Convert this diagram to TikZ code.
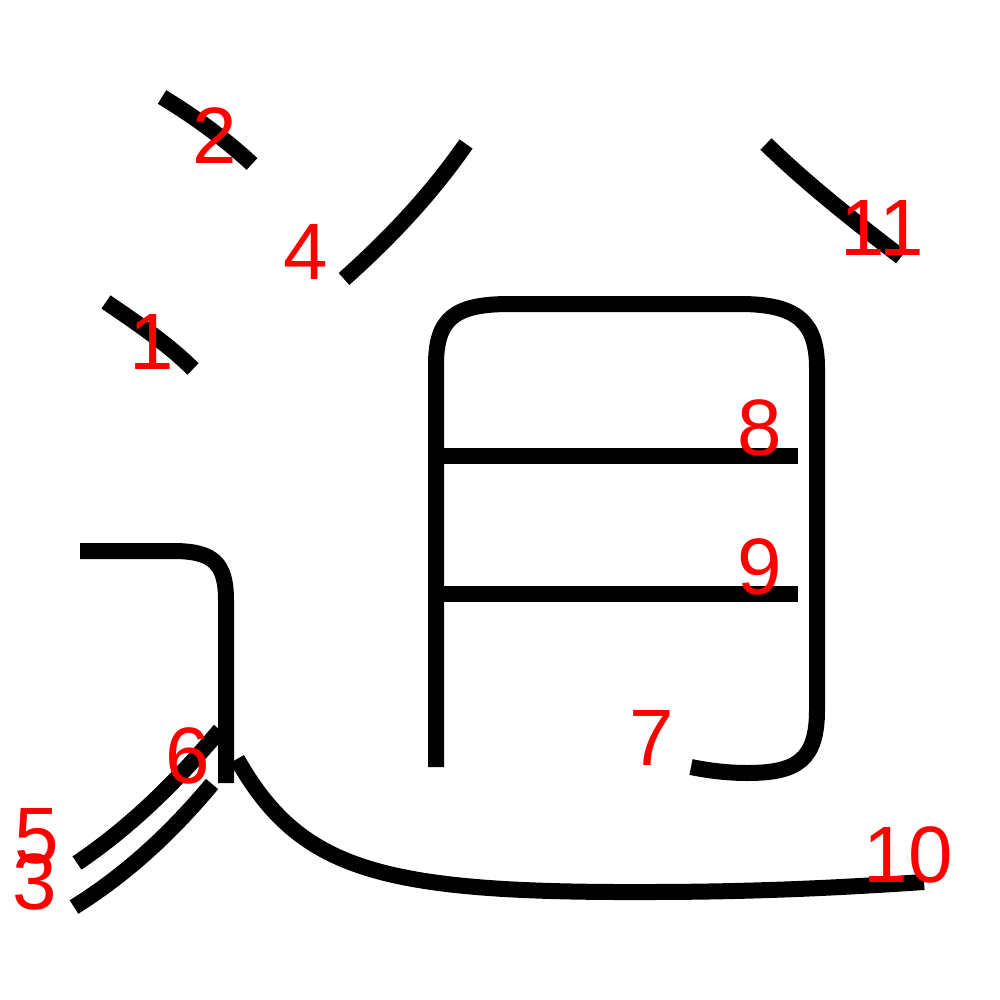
\documentclass[tikz,border=0pt]{standalone}
\usepackage{fontspec}
\setmainfont{Liberation Sans}
\begin{document}
\begin{tikzpicture}[x=1pt,y=-1pt,
  strokeline/.style={draw=black,line width=16pt,line cap=butt,line join=round},
  numlabel/.style={text=red,inner sep=0pt,font=\fontsize{80}{80}\selectfont}]
\fill[white] (0,0) rectangle (1000,1000);
\useasboundingbox (0,0) rectangle (1000,1000);
% strokes
\draw[strokeline] (106,302) .. controls (140,325) and (170,346) .. (193,369);
\draw[strokeline] (162,97) .. controls (195,117) and (225,139) .. (252,164);
\draw[strokeline] (212,784) .. controls (172,832) and (127,874) .. (74,907);
\draw[strokeline] (466,144) .. controls (432,193) and (392,236) .. (344,279);
\draw[strokeline] (220,730) .. controls (172,787) and (126,830) .. (77,863);
\draw[strokeline] (80,551) -- (173,551) .. controls (213,551) and (226,563) .. (226,600) -- (226,783);
\draw[strokeline] (436,767) -- (436,365) .. controls (436,318) and (455,304) .. (510,304)
  -- (740,304) .. controls (797,304) and (817,322) .. (817,368)
  -- (817,710) .. controls (817,760) and (797,773) .. (747,773)
  .. controls (730,773) and (710,771) .. (691,767);
\draw[strokeline] (436,456) -- (798,456);
\draw[strokeline] (436,594) -- (798,594);
\draw[strokeline] (237,759) .. controls (300,870) and (380,893) .. (647,892)
  .. controls (760,892) and (850,887) .. (924,882);
\draw[strokeline] (766,144) .. controls (805,182) and (850,218) .. (901,257);
% labels
\node[numlabel] (n1) at (152,342) {1};
\node[numlabel] (n2) at (215,136) {2};
\node[numlabel] (n3) at (35,882) {3};
\node[numlabel] (n4) at (306,252) {4};
\node[numlabel] (n5) at (37,836) {5};
\node[numlabel] (n6) at (188,756) {6};
\node[numlabel] (n7) at (652,738) {7};
\node[numlabel] (n8) at (760,428) {8};
\node[numlabel] (n9) at (760,567) {9};
\node[numlabel] (n10) at (908,855) {10};
\node[numlabel] (n11) at (882,228) {11};
\end{tikzpicture}
\end{document}
